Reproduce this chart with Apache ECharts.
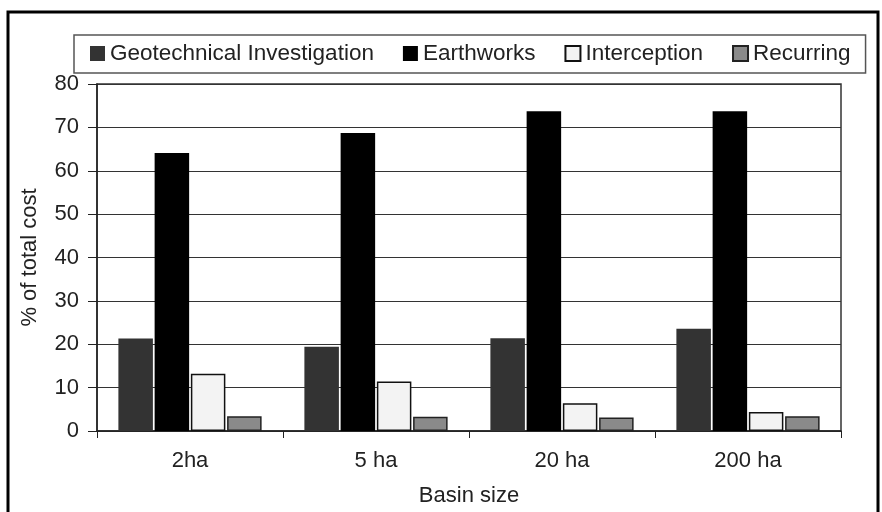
<!DOCTYPE html>
<html>
<head>
<meta charset="utf-8">
<script src="https://cdn.jsdelivr.net/npm/echarts@6/dist/echarts.min.js"></script>
<style>
html,body{margin:0;padding:0;background:#fff;}
#chart{width:882px;height:512px;}
</style>
</head>
<body>
<div id="chart"></div>
<script>
const categories = ['2ha', '5 ha', '20 ha', '200 ha'];
const geotechnical = [21.3, 19.4, 21.4, 23.6];
const earthworks = [64.1, 68.7, 73.7, 73.7];
const interception = [13.2, 11.4, 6.4, 4.4];
const recurring = [3.4, 3.3, 3.1, 3.4];
const yTicks = [0, 10, 20, 30, 40, 50, 60, 70, 80];

const FONT = 'Liberation Sans, Arial, sans-serif';
const TXT = '#222';

const chart = echarts.init(document.getElementById('chart'));
chart.setOption({
  backgroundColor: '#fff',
  animation: false,
  graphic: [{
    type: 'rect',
    shape: { x: 8, y: 12, width: 870, height: 530 },
    style: { fill: 'none', stroke: '#000', lineWidth: 3 },
    silent: true
  }],
  legend: {
    left: 74, top: 35,
    padding: [7, 15, 8, 16],
    borderColor: '#555', borderWidth: 1.5,
    itemWidth: 15, itemHeight: 15, itemGap: 29,
    icon: 'rect',
    textStyle: { fontFamily: FONT, fontSize: 22.5, lineHeight: 22, color: TXT },
    data: ['Geotechnical Investigation', 'Earthworks', 'Interception', 'Recurring']
  },
  grid: { left: 97, right: 41, top: 84, bottom: 81, show: true, borderColor: '#333', borderWidth: 1.5 },
  xAxis: {
    type: 'category', data: categories,
    name: 'Basin size', nameLocation: 'middle', nameGap: 54,
    nameTextStyle: { fontFamily: FONT, fontSize: 22, color: TXT },
    axisLine: { lineStyle: { color: '#222', width: 1.5 } },
    axisTick: { show: true, length: 7, lineStyle: { color: '#222' } },
    axisLabel: { fontFamily: FONT, fontSize: 22, color: TXT, margin: 19 }
  },
  yAxis: {
    type: 'value', min: 0, max: 80, interval: 10,
    name: '% of total cost', nameLocation: 'middle', nameGap: 56, nameRotate: 90,
    nameTextStyle: { fontFamily: FONT, fontSize: 22, color: TXT },
    axisLine: { show: true, lineStyle: { color: '#222', width: 1.5 } },
    axisTick: { show: true, length: 9, lineStyle: { color: '#222' } },
    axisLabel: { fontFamily: FONT, fontSize: 22, color: TXT, margin: 18,
      formatter: v => yTicks.includes(v) ? String(v) : '' },
    splitLine: { lineStyle: { color: '#333', width: 1.2 } }
  },
  series: [
    { name: 'Geotechnical Investigation', type: 'bar', data: geotechnical, barGap: '5%', barCategoryGap: '23%',
      itemStyle: { color: '#333333' } },
    { name: 'Earthworks', type: 'bar', data: earthworks,
      itemStyle: { color: '#000000' } },
    { name: 'Interception', type: 'bar', data: interception,
      itemStyle: { color: '#f3f3f3', borderColor: '#111', borderWidth: 1.5 } },
    { name: 'Recurring', type: 'bar', data: recurring,
      itemStyle: { color: '#8a8a8a', borderColor: '#222', borderWidth: 1.5 } }
  ]
});
</script>
</body>
</html>
